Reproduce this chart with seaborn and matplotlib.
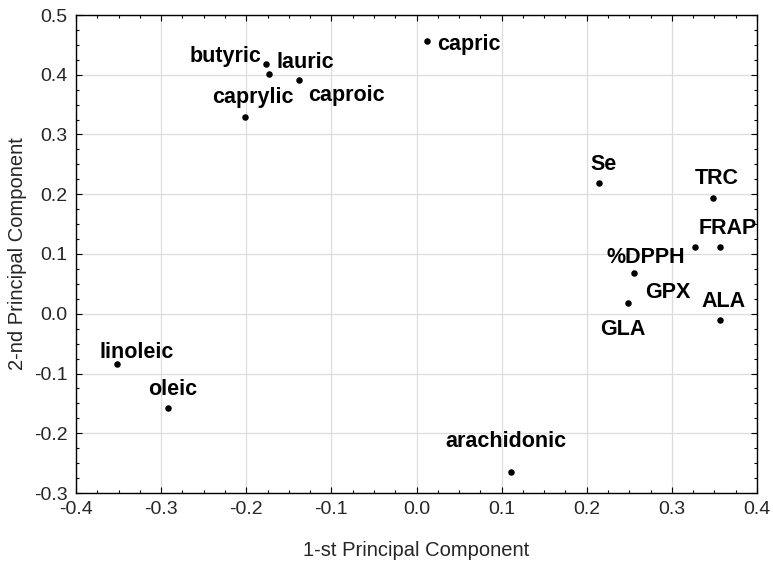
import matplotlib
matplotlib.use("Agg")
import matplotlib.pyplot as plt
from matplotlib.ticker import MultipleLocator, FormatStrFormatter
import seaborn as sns
import pandas as pd

names = ["butyric", "lauric", "caproic", "caprylic", "capric", "Se", "TRC", "FRAP",
         "%DPPH", "GPX", "GLA", "ALA", "linoleic", "oleic", "arachidonic"]
pc1 = [-0.177, -0.173, -0.138, -0.202, 0.012, 0.214, 0.348, 0.357,
       0.327, 0.256, 0.249, 0.357, -0.352, -0.292, 0.111]
pc2 = [0.418, 0.401, 0.391, 0.330, 0.457, 0.219, 0.193, 0.111,
       0.111, 0.069, 0.018, -0.010, -0.084, -0.157, -0.265]

# label placement (pixel offsets from the point, alignment)
label_dx = [-4, 7, 9, 8, 10, -8, 4, 7, -10, 11, -6, 3, -17, 5, -5]
label_dy = [2, 6, -21, 14, -9, 13, 14, 13, -16, -25, -32, 13, 6, 13, 25]
label_ha = ["right", "left", "left", "center", "left", "left", "center", "center",
            "right", "left", "center", "center", "left", "center", "center"]

df = pd.DataFrame({"name": names, "pc1": pc1, "pc2": pc2})

sns.set_theme(style="white")
plt.rcParams["font.family"] = ["Liberation Sans", "DejaVu Sans"]

fig = plt.figure(figsize=(7.73, 5.62), dpi=100)
ax = fig.add_axes([76 / 773, 1 - 493 / 562, 681 / 773, 478 / 562])

sns.scatterplot(data=df, x="pc1", y="pc2", ax=ax, color="black", s=22,
                edgecolor="black", linewidth=0, zorder=3)

for n, x, y, dx, dy, ha in zip(names, pc1, pc2, label_dx, label_dy, label_ha):
    ax.annotate(n, (x, y), xytext=(dx, dy), textcoords="offset pixels",
                ha=ha, va="baseline", fontsize=15.5, fontweight="bold", color="black")

ax.set_xlim(-0.4, 0.4)
ax.set_ylim(-0.3, 0.5)
ax.xaxis.set_major_locator(MultipleLocator(0.1))
ax.yaxis.set_major_locator(MultipleLocator(0.1))
ax.xaxis.set_minor_locator(MultipleLocator(0.025))
ax.yaxis.set_minor_locator(MultipleLocator(0.025))
ax.xaxis.set_major_formatter(FormatStrFormatter("%.1f"))
ax.yaxis.set_major_formatter(FormatStrFormatter("%.1f"))

ax.grid(True, which="major", color="#dcdcdc", linewidth=0.9)
ax.set_axisbelow(True)
for sp in ax.spines.values():
    sp.set_color("black")
    sp.set_linewidth(1.0)

ax.tick_params(which="both", direction="in", top=True, right=True, bottom=True, left=True,
               color="black", labelsize=14)
ax.tick_params(which="major", length=4, width=0.8, pad=6)
ax.tick_params(which="minor", length=2.5, width=0.8)

ax.set_xlabel("1-st Principal Component", fontsize=14.5, labelpad=16)
ax.set_ylabel("2-nd Principal Component", fontsize=14.5, labelpad=5)

fig.savefig("out.png", dpi=100)
